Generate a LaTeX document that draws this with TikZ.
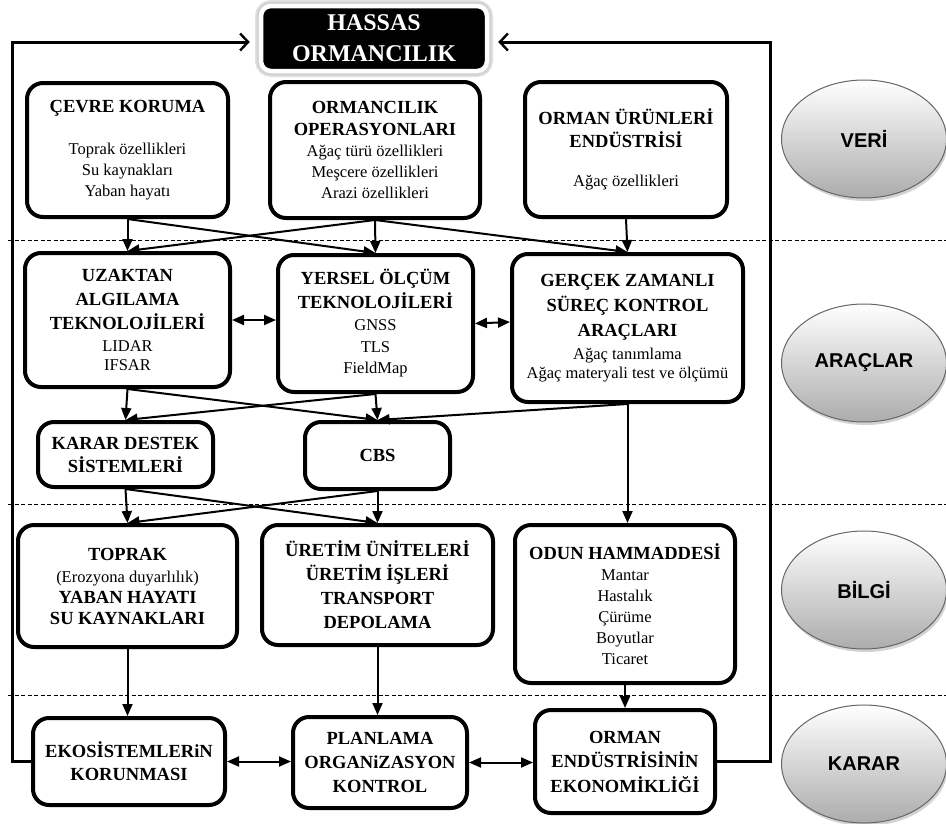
\documentclass[tikz,border=0pt]{standalone}
\usepackage{fontspec}
\setmainfont{Liberation Serif}
\newfontfamily\arialfont{Liberation Sans}
\usetikzlibrary{arrows.meta,shadows,shapes.geometric}
\newcommand\bt{\fontsize{18.5}{21}\selectfont\bfseries}
\begin{document}
\begin{tikzpicture}[x=1pt,y=-1pt,
  box/.style={draw, line width=4pt, rounded corners=16pt, fill=white, align=center,
    inner sep=0pt, font=\fontsize{16.5}{21}\selectfont},
  conn/.style={line width=2pt, -{Triangle[length=12pt,width=10pt]}},
  dconn/.style={line width=2pt, {Triangle[length=12pt,width=10pt]}-{Triangle[length=12pt,width=10pt]}},
  loopline/.style={line width=3pt, -{Straight Barb[length=8pt,width=17pt,line width=2.4pt]}},
  sep/.style={line width=0.9pt, dash pattern=on 4pt off 2.5pt},
  oval/.style={ellipse, draw=gray!80!black, line width=1pt, minimum width=165pt, minimum height=118pt,
    top color=white, bottom color=gray!65, drop shadow={shadow xshift=1.5pt, shadow yshift=-3pt, opacity=0.35},
    font=\arialfont\bfseries\fontsize{20}{24}\selectfont}
]
\useasboundingbox (0,0) rectangle (946,823);

% separators
\draw[sep] (8,240) -- (946,240);
\draw[sep] (8,504) -- (946,504);
\draw[sep] (8,695) -- (946,695);

% title
\node[fill=black, draw=white, line width=4.5pt, rounded corners=10pt, minimum width=226pt, minimum height=65pt,
  text=white, align=center, inner sep=0pt, font=\fontsize{24}{31}\selectfont\bfseries,
  preaction={draw=gray!22, line width=12pt},
  preaction={draw=gray!35, line width=9pt},
  drop shadow={shadow xshift=0.5pt, shadow yshift=-2.5pt, fill=gray!40, opacity=0.5}]
  (hassas) at (374,38.5) {HASSAS\\ORMANCILIK};

% row 1
\node[box, minimum width=201pt, minimum height=134pt] (cevre) at (127.5,150)
  {{\bt ÇEVRE KORUMA}\\[21pt]Toprak özellikleri\\Su kaynakları\\Yaban hayatı};
\node[box, minimum width=210pt, minimum height=136pt] (orm) at (375,150)
  {{\bt ORMANCILIK}\\[1pt]{\bt OPERASYONLARI}\\Ağaç türü özellikleri\\Meşcere özellikleri\\Arazi özellikleri};
\node[box, minimum width=202pt, minimum height=135pt] (ou) at (626,149.5)
  {{\bt ORMAN ÜRÜNLERİ}\\[2pt]{\bt ENDÜSTRİSİ}\\[18pt]Ağaç özellikleri};

% row 2
\node[box, minimum width=205pt, minimum height=134pt] (uz) at (127.5,320)
  {{\bt UZAKTAN}\\[3pt]{\bt ALGILAMA}\\[3pt]{\bt TEKNOLOJİLERİ}\\[1pt]LIDAR\\[-2pt]IFSAR};
\node[box, minimum width=195pt, minimum height=137pt] (yer) at (375.5,323.5)
  {{\bt YERSEL ÖLÇÜM}\\[3pt]{\bt TEKNOLOJİLERİ}\\[1pt]GNSS\\[1pt]TLS\\FieldMap};
\node[box, minimum width=231pt, minimum height=148pt] (ger) at (627.5,328)
  {{\bt GERÇEK ZAMANLI}\\[4pt]{\bt SÜREÇ KONTROL}\\[4pt]{\bt ARAÇLARI}\\[2pt]Ağaç tanımlama\\[-2pt]Ağaç materyali test ve ölçümü};

% row 3
\node[box, minimum width=175pt, minimum height=65pt] (kds) at (125.5,454.5)
  {{\bt KARAR DESTEK}\\[2pt]{\bt SİSTEMLERİ}};
\node[box, minimum width=145pt, minimum height=67pt] (cbs) at (377.5,455.5)
  {{\bt CBS}};

% row 4
\node[box, minimum width=219pt, minimum height=122pt] (top) at (127.5,586)
  {{\bt TOPRAK}\\[1pt](Erozyona duyarlılık)\\{\bt YABAN HAYATI}\\{\bt SU KAYNAKLARI}};
\node[box, minimum width=231pt, minimum height=120pt] (ur) at (377.5,585)
  {{\bt ÜRETİM ÜNİTELERİ}\\[3pt]{\bt ÜRETİM İŞLERİ}\\[3pt]{\bt TRANSPORT}\\[3pt]{\bt DEPOLAMA}};
\node[box, minimum width=220pt, minimum height=158pt] (odun) at (625,604)
  {{\bt ODUN HAMMADDESİ}\\Mantar\\Hastalık\\Çürüme\\Boyutlar\\Ticaret};

% row 5
\node[box, minimum width=192pt, minimum height=87pt] (eko) at (129,761.5)
  {{\bt EKOSİSTEMLERiN}\\[2pt]{\bt KORUNMASI}};
\node[box, minimum width=174pt, minimum height=91pt] (plan) at (380,762.5)
  {{\bt PLANLAMA}\\[3pt]{\bt ORGANiZASYON}\\[3pt]{\bt KONTROL}};
\node[box, minimum width=180pt, minimum height=103pt] (oend) at (625,761.5)
  {{\bt ORMAN}\\[3.5pt]{\bt ENDÜSTRİSİNİN}\\[3.5pt]{\bt EKONOMİKLİĞİ}};

% ellipses
\node[oval] (veri) at (864,139) {VERİ};
\node[oval] (arac) at (864,363) {ARAÇLAR};
\node[oval] (bilgi) at (864,590) {BİLGİ};
\node[oval] (karar) at (864,764) {KARAR};

% feedback loop
\draw[loopline] (eko.west) -| (12,42) -- ([xshift=-9pt,yshift=-3.5pt]hassas.west);
\draw[loopline] (oend.east) -| (770,42) -- ([xshift=9pt,yshift=-3.5pt]hassas.east);

% row1 -> row2
\draw[conn] (cevre.south) -- (uz.north);
\draw[conn] (cevre.south) -- (yer.north);
\draw[conn] (orm.south) -- (uz.north);
\draw[conn] (orm.south) -- (yer.north);
\draw[conn] (orm.south) -- (ger.north);
\draw[conn] (ou.south) -- (ger.north);

% row2 double arrows
\draw[dconn] (uz.east) -- (uz.east -| yer.west);
\draw[dconn] (yer.east) -- ([yshift=1.5pt]yer.east -| ger.west);

% row2 -> row3
\draw[conn] (uz.south) -- (kds.north);
\draw[conn] (uz.south) -- (cbs.north);
\draw[conn] (yer.south) -- (kds.north);
\draw[conn] (yer.south) -- (cbs.north);
\draw[conn] (ger.south) -- (cbs.north);
\draw[conn] (ger.south) -- (ger.south |- odun.north);

% row3 -> row4
\draw[conn] (kds.south) -- (top.north);
\draw[conn] (kds.south) -- (ur.north);
\draw[conn] (cbs.south) -- (top.north);
\draw[conn] (cbs.south) -- (ur.north);

% row4 -> row5
\draw[conn] (top.south) -- (top.south |- eko.north);
\draw[conn] (ur.south) -- (ur.south |- plan.north);
\draw[conn] (odun.south) -- (oend.north);

% row5 double arrows
\draw[dconn] (eko.east) -- (eko.east -| plan.west);
\draw[dconn] (plan.east) -- (plan.east -| oend.west);
\end{tikzpicture}
\end{document}
